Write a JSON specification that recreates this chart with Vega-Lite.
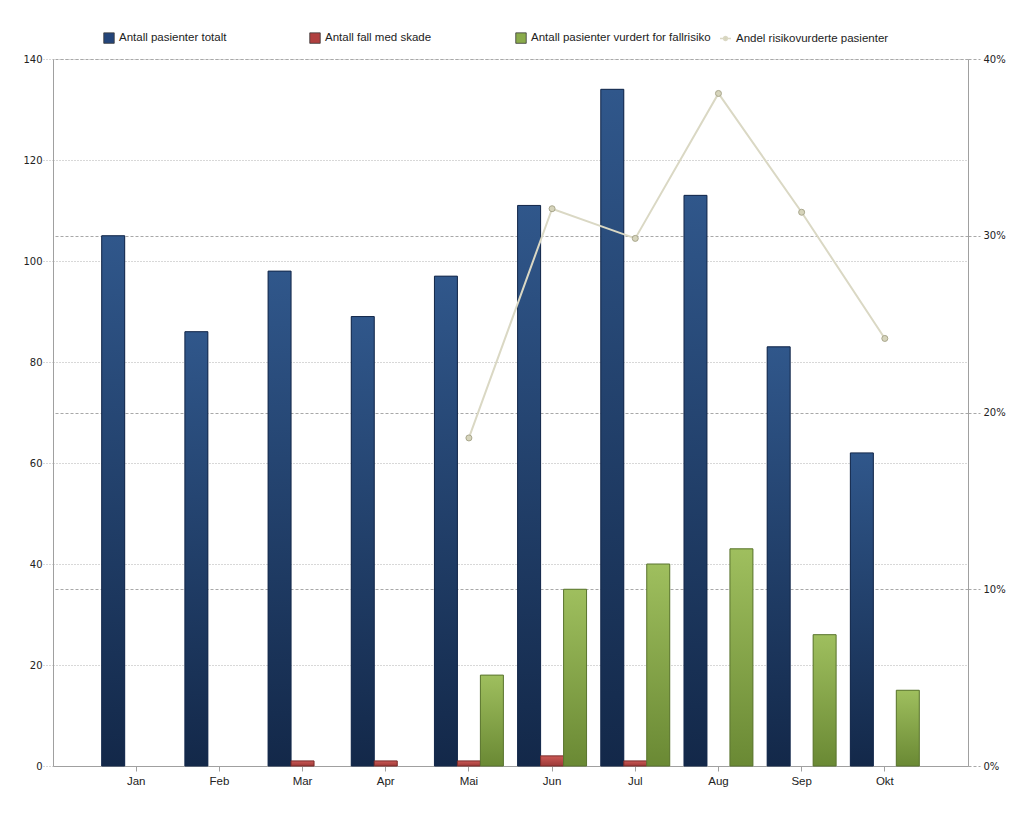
{
  "$schema": "https://vega.github.io/schema/vega-lite/v6.json",
  "width": 915,
  "height": 707,
  "autosize": {"type": "none"},
  "padding": {"left": 53, "top": 59, "right": 54, "bottom": 69},
  "background": "white",
  "config": {"view": {"stroke": null}, "font": "DejaVu Sans"},
  "datasets": {
    "bars": [
      {"maned": "Jan", "serie": "Antall pasienter totalt", "antall": 105},
      {"maned": "Feb", "serie": "Antall pasienter totalt", "antall": 86},
      {"maned": "Mar", "serie": "Antall pasienter totalt", "antall": 98},
      {"maned": "Apr", "serie": "Antall pasienter totalt", "antall": 89},
      {"maned": "Mai", "serie": "Antall pasienter totalt", "antall": 97},
      {"maned": "Jun", "serie": "Antall pasienter totalt", "antall": 111},
      {"maned": "Jul", "serie": "Antall pasienter totalt", "antall": 134},
      {"maned": "Aug", "serie": "Antall pasienter totalt", "antall": 113},
      {"maned": "Sep", "serie": "Antall pasienter totalt", "antall": 83},
      {"maned": "Okt", "serie": "Antall pasienter totalt", "antall": 62},
      {"maned": "Jan", "serie": "Antall fall med skade", "antall": 0},
      {"maned": "Feb", "serie": "Antall fall med skade", "antall": 0},
      {"maned": "Mar", "serie": "Antall fall med skade", "antall": 1},
      {"maned": "Apr", "serie": "Antall fall med skade", "antall": 1},
      {"maned": "Mai", "serie": "Antall fall med skade", "antall": 1},
      {"maned": "Jun", "serie": "Antall fall med skade", "antall": 2},
      {"maned": "Jul", "serie": "Antall fall med skade", "antall": 1},
      {"maned": "Aug", "serie": "Antall fall med skade", "antall": 0},
      {"maned": "Sep", "serie": "Antall fall med skade", "antall": 0},
      {"maned": "Okt", "serie": "Antall fall med skade", "antall": 0},
      {"maned": "Jan", "serie": "Antall pasienter vurdert for fallrisiko", "antall": 0},
      {"maned": "Feb", "serie": "Antall pasienter vurdert for fallrisiko", "antall": 0},
      {"maned": "Mar", "serie": "Antall pasienter vurdert for fallrisiko", "antall": 0},
      {"maned": "Apr", "serie": "Antall pasienter vurdert for fallrisiko", "antall": 0},
      {"maned": "Mai", "serie": "Antall pasienter vurdert for fallrisiko", "antall": 18},
      {"maned": "Jun", "serie": "Antall pasienter vurdert for fallrisiko", "antall": 35},
      {"maned": "Jul", "serie": "Antall pasienter vurdert for fallrisiko", "antall": 40},
      {"maned": "Aug", "serie": "Antall pasienter vurdert for fallrisiko", "antall": 43},
      {"maned": "Sep", "serie": "Antall pasienter vurdert for fallrisiko", "antall": 26},
      {"maned": "Okt", "serie": "Antall pasienter vurdert for fallrisiko", "antall": 15}
    ],
    "andel": [
      {"maned": "Mai", "serie": "Andel risikovurderte pasienter", "andel": 0.1856},
      {"maned": "Jun", "serie": "Andel risikovurderte pasienter", "andel": 0.3153},
      {"maned": "Jul", "serie": "Andel risikovurderte pasienter", "andel": 0.2985},
      {"maned": "Aug", "serie": "Andel risikovurderte pasienter", "andel": 0.3805},
      {"maned": "Sep", "serie": "Andel risikovurderte pasienter", "andel": 0.3133},
      {"maned": "Okt", "serie": "Andel risikovurderte pasienter", "andel": 0.2419}
    ]
  },
  "layer": [
    {
      "data": {"name": "bars"},
      "encoding": {
        "x": {
          "field": "maned", "type": "nominal", "sort": null, "title": null,
          "scale": {"type": "band", "domain": ["Jan", "Feb", "Mar", "Apr", "Mai", "Jun", "Jul", "Aug", "Sep", "Okt"], "paddingInner": 0, "paddingOuter": 0.5},
          "axis": {"labelAngle": 0, "grid": false, "domainColor": "#a0a0a0", "tickColor": "#a0a0a0", "tickSize": 5, "labelPadding": 4, "labelFont": "Liberation Sans", "labelFontSize": 11.5, "labelColor": "#222222"}
        },
        "xOffset": {
          "field": "serie", "type": "nominal",
          "scale": {"domain": ["Antall pasienter totalt", "Antall fall med skade", "Antall pasienter vurdert for fallrisiko"], "paddingInner": 0, "paddingOuter": 0.31}
        },
        "y": {
          "field": "antall", "type": "quantitative", "title": null,
          "scale": {"domain": [0, 140], "nice": false},
          "axis": {"values": [0, 20, 40, 60, 80, 100, 120, 140], "grid": true, "gridDash": [1, 2], "gridColor": "#b0b0b0", "tickDash": [1, 2], "tickColor": "#b0b0b0", "tickSize": 10, "labelPadding": 1, "domainColor": "#a0a0a0", "labelFont": "DejaVu Sans", "labelFontSize": 10, "labelColor": "#222222"}
        }
      },
      "layer": [
        {
          "mark": {"type": "bar"},
          "encoding": {
            "color": {
              "field": "serie", "type": "nominal",
              "scale": {"domain": ["Antall pasienter totalt", "Antall fall med skade", "Antall pasienter vurdert for fallrisiko"], "range": ["#24457a", "#b0403f", "#8aab4b"]},
              "legend": {"orient": "none", "legendX": 50, "legendY": -27, "direction": "horizontal", "title": null, "symbolType": "square", "symbolSize": 110, "labelFont": "Liberation Sans", "labelFontSize": 11.5, "labelColor": "#222222", "gridAlign": "all", "columnPadding": 9, "padding": 0, "labelLimit": 300,
                "encode": {"symbols": {"update": {"stroke": {"value": "#3a3a3a"}, "strokeWidth": {"value": 0.8}}}}}
            }
          }
        },
        {
          "transform": [{"filter": "datum.serie === 'Antall pasienter totalt' && datum.antall > 0"}],
          "mark": {"type": "bar", "stroke": "#14284a", "strokeWidth": 1, "fill": {"gradient": "linear", "x1": 0, "y1": 0, "x2": 0, "y2": 1, "stops": [{"offset": 0, "color": "#30578b"}, {"offset": 1, "color": "#132849"}]}}
        },
        {
          "transform": [{"filter": "datum.serie === 'Antall fall med skade' && datum.antall > 0"}],
          "mark": {"type": "bar", "stroke": "#7a2c2a", "strokeWidth": 1, "fill": {"gradient": "linear", "x1": 0, "y1": 0, "x2": 0, "y2": 1, "stops": [{"offset": 0, "color": "#cc5855"}, {"offset": 1, "color": "#9c3a38"}]}}
        },
        {
          "transform": [{"filter": "datum.serie === 'Antall pasienter vurdert for fallrisiko' && datum.antall > 0"}],
          "mark": {"type": "bar", "stroke": "#5b7530", "strokeWidth": 1, "fill": {"gradient": "linear", "x1": 0, "y1": 0, "x2": 0, "y2": 1, "stops": [{"offset": 0, "color": "#9fbf5e"}, {"offset": 1, "color": "#6a8934"}]}}
        }
      ]
    },
    {
      "data": {"name": "andel"},
      "encoding": {
        "x": {
          "field": "maned", "type": "nominal", "sort": null, "title": null,
          "scale": {"type": "band", "domain": ["Jan", "Feb", "Mar", "Apr", "Mai", "Jun", "Jul", "Aug", "Sep", "Okt"], "paddingInner": 0, "paddingOuter": 0.5},
          "axis": {"labelAngle": 0, "grid": false, "domainColor": "#a0a0a0", "tickColor": "#a0a0a0", "tickSize": 5, "labelPadding": 4, "labelFont": "Liberation Sans", "labelFontSize": 11.5, "labelColor": "#222222"}
        },
        "y": {
          "field": "andel", "type": "quantitative", "title": null,
          "scale": {"domain": [0, 0.4], "nice": false},
          "axis": {"orient": "right", "format": ".0%", "values": [0, 0.1, 0.2, 0.3, 0.4], "grid": true, "gridDash": [3, 2], "gridColor": "#a8a8a8", "tickDash": [3, 2], "tickColor": "#a8a8a8", "tickSize": 12, "labelPadding": 3, "domainColor": "#a0a0a0", "labelFont": "DejaVu Sans", "labelFontSize": 10, "labelColor": "#222222"}
        }
      },
      "layer": [
        {
          "mark": {"type": "line", "strokeWidth": 2},
          "encoding": {
            "stroke": {
              "field": "serie", "type": "nominal",
              "scale": {"range": ["#dad8c4"]},
              "legend": {"orient": "none", "legendX": 666, "legendY": -27, "title": null, "symbolType": "M-1,0H-0.35M0.35,0H1M-0.35,0A0.35,0.35,0,1,0,0.35,0A0.35,0.35,0,1,0,-0.35,0", "symbolSize": 120, "symbolStrokeWidth": 1.5, "labelFont": "Liberation Sans", "labelFontSize": 11.5, "labelColor": "#222222", "padding": 0, "labelLimit": 300,
                "encode": {"symbols": {"update": {"fill": {"value": "#d6d4bb"}, "stroke": {"value": "#b3b198"}}}}}
            }
          }
        },
        {
          "mark": {"type": "point", "filled": true, "fill": "#d6d4bb", "stroke": "#a9a78d", "strokeWidth": 1, "size": 36, "opacity": 1}
        }
      ]
    }
  ],
  "resolve": {"scale": {"y": "independent"}}
}
